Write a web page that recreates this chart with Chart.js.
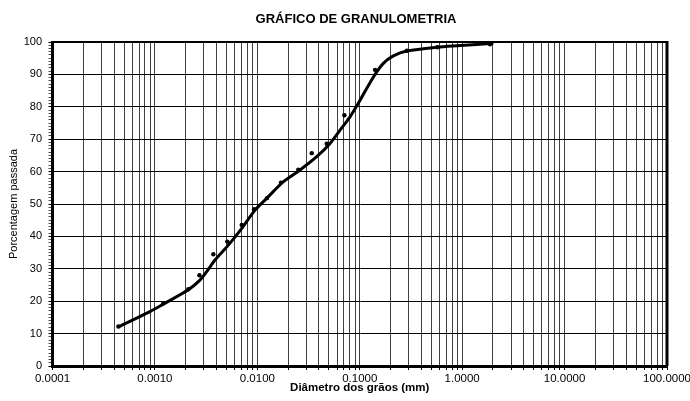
<!DOCTYPE html>
<html>
<head>
<meta charset="utf-8">
<script src="https://cdn.jsdelivr.net/npm/chart.js@4.4.1/dist/chart.umd.min.js"></script>
<style>
  html, body { margin: 0; padding: 0; background: #fff; }
  #wrap { width: 690px; height: 401px; position: relative; }
</style>
</head>
<body>
<div id="wrap"><canvas id="chart"></canvas></div>
<script>
// measured sieve / sedimentation points (mm, % passing)
const grainDiameters = [0.00044, 0.00121, 0.00212, 0.00272, 0.00372, 0.00509, 0.00704, 0.00929,
  0.0124, 0.0170, 0.0251, 0.0340, 0.0476, 0.0708, 0.141, 0.288, 0.573, 1.87];
const percentPassing = [12.2, 19.4, 23.7, 28.0, 34.5, 38.4, 43.5, 48.4,
  51.8, 56.6, 60.6, 65.7, 68.6, 77.4, 91.4, 97.3, 98.4, 99.3];

// hand-drawn smoothed curve through the points
const curveDiameters = [0.00044, 0.000895, 0.00121, 0.00212, 0.00275, 0.0032, 0.00386, 0.00521,
  0.00705, 0.0095, 0.0124, 0.018, 0.0261, 0.038, 0.0513, 0.0642, 0.0804, 0.0969,
  0.136, 0.17, 0.213, 0.288, 0.565, 0.955, 2.02];
const curvePassing = [12.1, 16.8, 19.1, 23.5, 26.5, 29.1, 32.7, 37.3,
  42.5, 48.1, 51.8, 56.9, 60.5, 64.6, 68.7, 72.8, 76.9, 81.1,
  89.2, 93.4, 95.7, 97.2, 98.4, 98.9, 99.6];

const xDecades = [0.0001, 0.001, 0.01, 0.1, 1, 10, 100];
const xTickLabels = ['0.0001', '0.0010', '0.0100', '0.1000', '1.0000', '10.0000', '100.0000'];
const yTickLabels = ['0', '10', '20', '30', '40', '50', '60', '70', '80', '90', '100'];

const FONT = 'Arial, "Liberation Sans", sans-serif';

function toPoints(xs, ys) {
  return xs.map((x, i) => ({ x, y: ys[i] }));
}

function decadeIndex(value) {
  return xDecades.findIndex((d) => Math.abs(value - d) / d < 1e-6);
}

const frame = {
  id: 'frame',
  afterDraw(chart) {
    const { ctx, chartArea: a } = chart;
    ctx.save();
    ctx.strokeStyle = '#000';
    ctx.lineWidth = 2;
    ctx.beginPath();
    ctx.moveTo(a.left, a.top);
    ctx.lineTo(a.right, a.top);
    ctx.stroke();
    ctx.lineWidth = 3;
    ctx.beginPath();
    ctx.moveTo(a.right, a.top - 1);
    ctx.lineTo(a.right, a.bottom);
    ctx.stroke();
    ctx.restore();
  }
};

new Chart(document.getElementById('chart'), {
  type: 'scatter',
  data: {
    datasets: [
      {
        label: 'curva',
        data: toPoints(curveDiameters, curvePassing),
        showLine: true,
        borderColor: '#000',
        borderWidth: 3,
        pointRadius: 0,
        tension: 0.3,
        fill: false
      },
      {
        label: 'ensaio',
        data: toPoints(grainDiameters, percentPassing),
        showLine: false,
        backgroundColor: '#000',
        borderColor: '#000',
        pointRadius: 2.2,
        borderWidth: 0
      }
    ]
  },
  plugins: [frame],
  options: {
    responsive: true,
    maintainAspectRatio: false,
    animation: false,
    layout: { padding: { left: 22, right: 0, top: 0, bottom: 0 } },
    plugins: {
      legend: { display: false },
      tooltip: { enabled: false },
      title: {
        display: true,
        text: 'GRÁFICO DE GRANULOMETRIA',
        color: '#000',
        font: { family: FONT, size: 13, weight: 'bold', lineHeight: 1.2 },
        padding: { top: 11.7, bottom: 14.7 }
      }
    },
    scales: {
      x: {
        type: 'logarithmic',
        min: 0.0001,
        max: 100,
        afterBuildTicks(scale) {
          const ticks = [];
          xDecades.slice(0, -1).forEach((d) => {
            for (let m = 1; m < 10; m++) ticks.push({ value: d * m });
          });
          ticks.push({ value: 100 });
          scale.ticks = ticks;
        },
        afterFit(scale) {
          scale.height = 35;
          scale.paddingLeft = 0;
          scale.paddingRight = 23;
        },
        grid: {
          color: '#404040',
          lineWidth: 1,
          tickLength: 4,
          tickColor: '#000'
        },
        border: { color: '#000', width: 3 },
        ticks: {
          autoSkip: false,
          maxRotation: 0,
          padding: 1.5,
          color: '#000',
          font: { family: FONT, size: 11.5 },
          callback(value) {
            const i = decadeIndex(value);
            return i >= 0 ? xTickLabels[i] : '';
          }
        },
        title: {
          display: true,
          text: 'Diâmetro dos grãos (mm)',
          color: '#000',
          font: { family: FONT, size: 11.5, weight: 'bold', lineHeight: 1.2 },
          padding: { top: 0, bottom: 6 }
        }
      },
      y: {
        min: 0,
        max: 100,
        afterBuildTicks(scale) {
          const ticks = [];
          for (let v = 0; v <= 100; v++) ticks.push({ value: v });
          scale.ticks = ticks;
        },
        afterFit(scale) {
          scale.width = 30.5;
        },
        grid: {
          color: (ctx) => (ctx.tick && ctx.tick.value % 10 === 0 ? '#000' : 'rgba(0,0,0,0)'),
          tickColor: (ctx) => (ctx.tick && ctx.tick.value % 10 === 0 ? '#000' : '#555'),
          lineWidth: 1,
          tickLength: 4
        },
        border: { color: '#000', width: 3 },
        ticks: {
          autoSkip: false,
          padding: 6.5,
          color: '#000',
          font: { family: FONT, size: 11 },
          callback(value) {
            return value % 10 === 0 ? yTickLabels[value / 10] : '';
          }
        },
        title: {
          display: true,
          text: 'Porcentagem passada',
          color: '#000',
          font: { family: FONT, size: 11, lineHeight: 1.2 },
          padding: { top: -14.6, bottom: 0 }
        }
      }
    }
  }
});
</script>
</body>
</html>
